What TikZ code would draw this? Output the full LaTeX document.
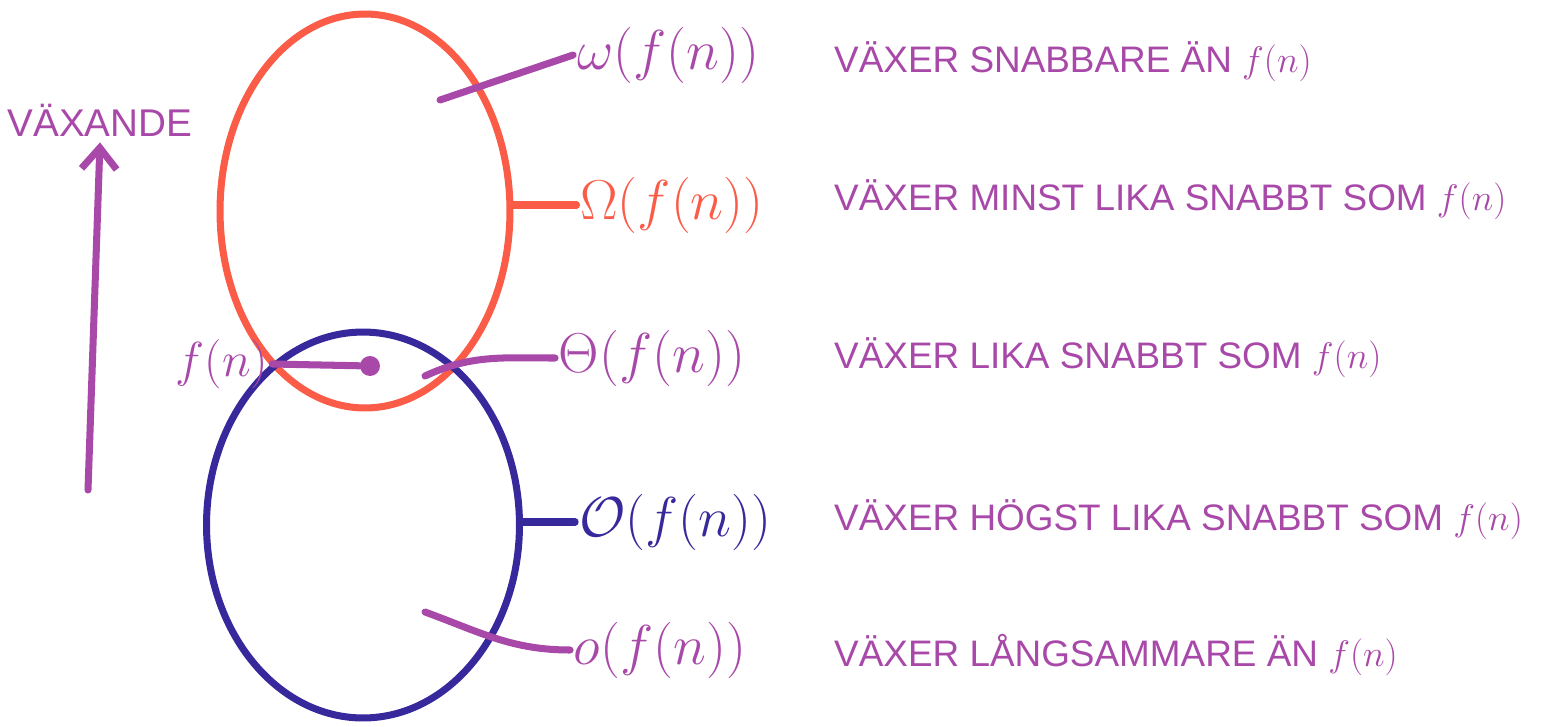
\documentclass[tikz,border=0pt]{standalone}
\usepackage{fix-cm}
\usepackage{fontspec}
\setmainfont{Liberation Sans}
\usepackage{tikz}
\usepackage{xcolor}
\usetikzlibrary{shapes.geometric,arrows.meta}

\definecolor{pen}{RGB}{168,72,168}
\definecolor{penred}{RGB}{250,92,72}
\definecolor{penblue}{RGB}{55,40,155}

\begin{document}
\begin{tikzpicture}[x=0.02cm, y=-0.02cm,
    marker/.style={line width=4pt, line cap=round},
    set/.style={draw, ellipse, line width=4pt, inner sep=0pt},
    bigo/.style={font=\fontsize{32}{36}\selectfont, inner sep=2pt},
    desc/.style={pen, font=\fontsize{21}{25}\selectfont, anchor=west}]
    \useasboundingbox (0,0) rectangle (1546,727);
    % Growing arrow
    \node[pen, font=\fontsize{22}{26}\selectfont] (grow) at (100,120) {VÄXANDE};
    \coordinate (tail) at (88,490);
    \draw[pen, marker, -{Straight Barb[length=12pt,width=20pt]}] (tail) -- (grow.south);
    % Sets
    \node[set, penred, minimum width=5.8cm, minimum height=7.88cm] (omg) at (365,211) {};
    \node[set, penblue, minimum width=6.26cm, minimum height=7.72cm] (bigO) at (363,525) {};
    % f(n) itself
    \node[circle, fill=pen, inner sep=0pt, minimum size=0.4cm] (pt) at (370,366) {};
    \node[pen, font=\fontsize{28}{32}\selectfont, inner sep=2pt] (fn) at (222,364) {$f(n)$};
    \draw[pen, marker] (fn.east) -- (pt);
    % Labels
    \node[pen, bigo] (wlab) at (668,55) {$\omega(f(n))$};
    \node[penred, bigo] (Wlab) at (672,205) {$\Omega(f(n))$};
    \node[pen, bigo] (Tlab) at (652,358) {$\Theta(f(n))$};
    \node[penblue, bigo] (Olab) at (675,522) {$\mathcal{O}(f(n))$};
    \node[pen, bigo] (olab) at (660,650) {$o(f(n))$};
    % Connectors
    \coordinate (wIn) at (440,100);
    \coordinate (tIn) at (425,376);
    \coordinate (oIn) at (425,612);
    \draw[pen, marker] (wIn) -- (wlab.west);
    \draw[penred, marker] (Wlab.west -| omg.east) -- (Wlab.west);
    \draw[pen, marker] (tIn) to[out=25, in=180] (Tlab.west);
    \draw[penblue, marker] (Olab.west -| bigO.east) -- (Olab.west);
    \draw[pen, marker] (oIn) to[out=-20, in=180] (olab.west);
    % Descriptions
    \node[desc] (d1) at (828,62) {VÄXER SNABBARE ÄN $f(n)$};
    \node[desc] (d2) at (828,200) {VÄXER MINST LIKA SNABBT SOM $f(n)$};
    \node[desc] (d3) at (828,358) {VÄXER LIKA SNABBT SOM $f(n)$};
    \node[desc] (d4) at (828,520) {VÄXER HÖGST LIKA SNABBT SOM $f(n)$};
    \node[desc] (d5) at (828,655) {VÄXER LÅNGSAMMARE ÄN $f(n)$};
\end{tikzpicture}
\end{document}
